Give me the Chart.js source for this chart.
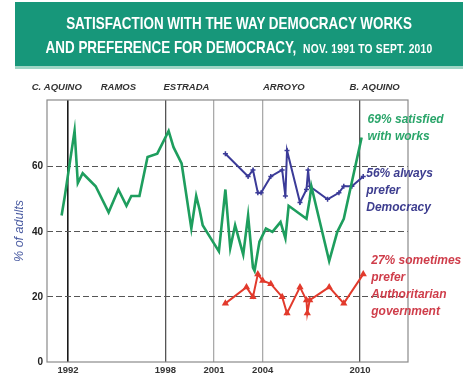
<!DOCTYPE html>
<html lang="en">
<head>
<meta charset="UTF-8">
<title>Satisfaction with democracy</title>
<script src="https://cdn.jsdelivr.net/npm/chart.js"></script>
<style>
  body {
    margin: 0;
    width: 463px;
    height: 376px;
    overflow: hidden;
    background: #fff;
  }
  .banner {
    position: absolute;
    left: 15px;
    top: 2px;
    width: 448px;
    height: 64px;
    background: #17977a;
    border-bottom: 3px solid #9ed5c5;
    color: #fff;
    text-align: center;
    font-family: "Liberation Sans", Arial, sans-serif;
    font-weight: bold;
    z-index: 2;
  }
  .line {
    position: absolute;
    left: -100px;
    right: -100px;
    white-space: nowrap;
    font-size: 17px;
    transform: scaleX(0.79);
    transform-origin: 324px 0;
  }
  .line1 { top: 12px; }
  .line2 { top: 36px; }
  .small { font-size: 13px; letter-spacing: 0.3px; }
  canvas { position: absolute; left: 0; top: 0; }
</style>
</head>
<body>
  <div class="banner">
    <div class="line line1">SATISFACTION WITH THE WAY DEMOCRACY WORKS</div>
    <div class="line line2">AND PREFERENCE FOR DEMOCRACY, <span class="small">&nbsp;NOV. 1991 TO SEPT. 2010</span></div>
  </div>
  <canvas id="chart" width="463" height="376"></canvas>

<script>
// % satisfied with the way democracy works
const satYears = [1991.6, 1991.8, 1992.4, 1992.6, 1992.9, 1993.7, 1994.5, 1995.1, 1995.6, 1995.9,
  1996.4, 1996.9, 1997.5, 1998.2, 1998.5, 1999.0, 1999.6, 1999.9, 2000.1, 2000.3,
  2000.8, 2001.3, 2001.7, 2002.0, 2002.3, 2002.8, 2003.1, 2003.4, 2003.5, 2003.8,
  2004.2, 2004.6, 2005.1, 2005.4, 2005.6, 2006.7, 2006.9, 2007.0, 2008.1, 2008.6,
  2009.0, 2010.1];
const satValues = [45, 51, 71, 55, 58, 54, 46, 53, 48, 51,
  51, 63, 64, 71, 66, 61, 41, 51, 47, 42,
  38, 34, 53, 35, 42, 33, 45, 29, 28, 37,
  41, 40, 43, 38, 48, 44, 50, 54, 31, 40,
  44, 69];

// % always prefer democracy
const demYears = [2001.7, 2003.1, 2003.4, 2003.7, 2003.9, 2004.5, 2005.2, 2005.4, 2005.5, 2006.3,
  2006.7, 2006.8, 2006.9, 2008.0, 2008.7, 2009.0, 2009.5, 2010.2];
const demValues = [64, 57, 59, 52, 52, 57, 59, 51, 65, 49,
  53, 59, 54, 50, 52, 54, 54, 57];

// % sometimes prefer authoritarian government
const authYears = [2001.7, 2003.0, 2003.4, 2003.7, 2004.0, 2004.5, 2005.2, 2005.5, 2006.3, 2006.7,
  2006.75, 2006.9, 2008.1, 2009.0, 2010.2];
const authValues = [18, 23, 20, 27, 25, 24, 20, 15, 23, 19,
  15, 19, 23, 18, 27];

const yearTicks = [1992, 1998, 2001, 2004, 2010];
const valueTicks = [0, 20, 40, 60];
const presidents = ['C. AQUINO', 'RAMOS', 'ESTRADA', 'ARROYO', 'B. AQUINO'];

const satLabel = ['69% satisfied', 'with works'];
const demLabel = ['56% always', 'prefer', 'Democracy'];
const authLabel = ['27% sometimes', 'prefer', 'Authoritarian', 'government'];

const toPoints = (xs, ys) => xs.map((x, i) => ({ x: x, y: ys[i] }));

// vertical lines at the change of president
const vlineColor = { 1992: '#1a1a1a', 1998: '#555', 2001: '#aaa', 2004: '#aaa', 2010: '#555' };

// plot frame, president names and end-of-line notes
const extras = {
  id: 'extras',
  afterDatasetsDraw(chart) {
    const { ctx, chartArea, scales } = chart;
    ctx.save();
    ctx.strokeStyle = '#8a8a8a';
    ctx.lineWidth = 1.2;
    ctx.strokeRect(chartArea.left, chartArea.top, chartArea.right - chartArea.left, chartArea.bottom - chartArea.top);

    // president names above the plot
    const presX = [1991.3, 1995.1, 1999.3, 2005.3, 2010.9];
    ctx.font = 'italic bold 9.5px "Liberation Sans", Arial, sans-serif';
    ctx.fillStyle = '#333';
    ctx.textAlign = 'center';
    ctx.textBaseline = 'middle';
    presidents.forEach((name, i) => {
      ctx.fillText(name, scales.x.getPixelForValue(presX[i]), 87);
    });

    // notes next to the last point of each series
    ctx.font = 'italic bold 12px "Liberation Sans", Arial, sans-serif';
    ctx.textAlign = 'left';
    const note = (dsIndex, lines, color, dx, dy) => {
      const pts = chart.getDatasetMeta(dsIndex).data;
      const last = pts[pts.length - 1];
      ctx.fillStyle = color;
      lines.forEach((t, i) => ctx.fillText(t, last.x + dx, last.y + dy + i * 17));
    };
    note(0, satLabel, '#2aa56a', 6, -18);
    note(1, demLabel, '#3d3d8f', 3, -3);
    note(2, authLabel, '#cf3d4a', 8, -13);
    ctx.restore();
  }
};

new Chart(document.getElementById('chart'), {
  type: 'scatter',
  data: {
    datasets: [
      {
        label: 'Satisfied with the way democracy works',
        data: toPoints(satYears, satValues),
        showLine: true,
        borderColor: '#1e9e5e',
        borderWidth: 2.6,
        pointRadius: 0,
        tension: 0
      },
      {
        label: 'Always prefer democracy',
        data: toPoints(demYears, demValues),
        showLine: true,
        borderColor: '#3b3b98',
        backgroundColor: '#3b3b98',
        borderWidth: 2,
        pointStyle: 'cross',
        pointRadius: 2.5,
        pointBorderWidth: 1.5,
        tension: 0
      },
      {
        label: 'Sometimes prefer authoritarian government',
        data: toPoints(authYears, authValues),
        showLine: true,
        borderColor: '#e23a2c',
        backgroundColor: '#e23a2c',
        borderWidth: 2,
        pointStyle: 'triangle',
        pointRadius: 2.2,
        tension: 0
      }
    ]
  },
  options: {
    responsive: false,
    animation: false,
    layout: { padding: { top: 100, right: 55, left: 0, bottom: 0 } },
    plugins: {
      legend: { display: false },
      tooltip: { enabled: false }
    },
    scales: {
      x: {
        type: 'linear',
        min: 1990.7,
        max: 2012.96,
        afterBuildTicks: (scale) => { scale.ticks = yearTicks.map(v => ({ value: v })); },
        afterFit: (scale) => { scale.height = 14; },
        ticks: {
          autoSkip: false,
          maxRotation: 0,
          padding: 3,
          color: '#333',
          font: { family: '"Liberation Sans", Arial, sans-serif', size: 9.5, weight: 'bold' },
          callback: (v) => String(v)
        },
        grid: {
          drawTicks: false,
          color: (c) => vlineColor[c.tick && c.tick.value] || '#aaa',
          lineWidth: (c) => (c.tick && c.tick.value === 1992 ? 1.6 : 1.3)
        },
        border: { display: false }
      },
      y: {
        min: 0,
        max: 80.5,
        afterBuildTicks: (scale) => { scale.ticks = valueTicks.map(v => ({ value: v })); },
        afterFit: (scale) => { scale.width = 47; },
        ticks: {
          padding: 4,
          color: '#222',
          font: { family: '"Liberation Sans", Arial, sans-serif', size: 10, weight: 'bold' }
        },
        grid: {
          drawTicks: false,
          color: (c) => (c.tick && c.tick.value === 0 ? 'rgba(0,0,0,0)' : '#555'),
          lineWidth: 1
        },
        border: { display: false, dash: [6, 3] },
        title: {
          display: true,
          text: '% of adults',
          color: '#4d5ea3',
          padding: { top: 12, bottom: 0 },
          font: { family: '"Liberation Sans", Arial, sans-serif', size: 12.5, style: 'italic' }
        }
      }
    }
  },
  plugins: [extras]
});
</script>
</body>
</html>
